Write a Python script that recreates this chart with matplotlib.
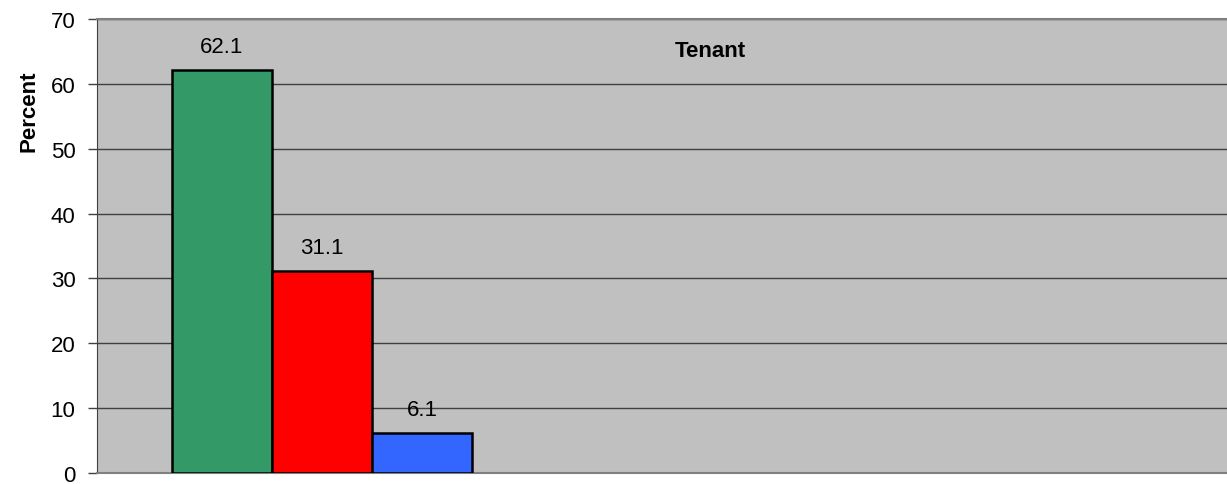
import matplotlib.pyplot as plt

# data
cats = ["A", "B", "C"]
vals = [62.1, 31.1, 6.1]
cols = ["#339966", "#ff0000", "#3366ff"]
yticks = [0, 10, 20, 30, 40, 50, 60, 70]

plt.rcParams['font.family'] = ['Liberation Sans', 'DejaVu Sans']

fig = plt.figure(figsize=(12.27, 4.85), dpi=100)
ax = fig.add_axes([97/1227, 11/485, 1 - 97/1227, 454/485])
ax.set_facecolor("#c0c0c0")

xs = list(range(len(vals)))
ax.bar(xs, vals, width=1.0, color=cols, edgecolor="black", linewidth=1.8, zorder=3)
for x, v in zip(xs, vals):
    ax.text(x, v + 3.7, f"{v:.1f}", ha="center", va="center", fontsize=16, zorder=4)

ax.set_xlim(-1.25, 10.05)
ax.set_ylim(0, 70)
ax.set_yticks(yticks)
ax.set_xticks([])
ax.tick_params(axis="y", labelsize=16, length=6.5, width=1, color="#404040", pad=9)
ax.grid(axis="y", color="#404040", linewidth=1, zorder=0)

ax.spines["top"].set_color("#808080")
ax.spines["top"].set_linewidth(1.5)
ax.spines["right"].set_visible(False)
ax.spines["left"].set_color("#404040")
ax.spines["bottom"].set_color("#808080")
ax.spines["bottom"].set_linewidth(1.5)

ax.set_ylabel("Percent", fontsize=16, fontweight="bold")
ax.yaxis.set_label_coords(-0.051, 0.80)
ax.text(0.543, 0.93, "Tenant", transform=ax.transAxes, ha="center", va="center",
        fontsize=16, fontweight="bold")

fig.savefig("out.png", dpi=100)
